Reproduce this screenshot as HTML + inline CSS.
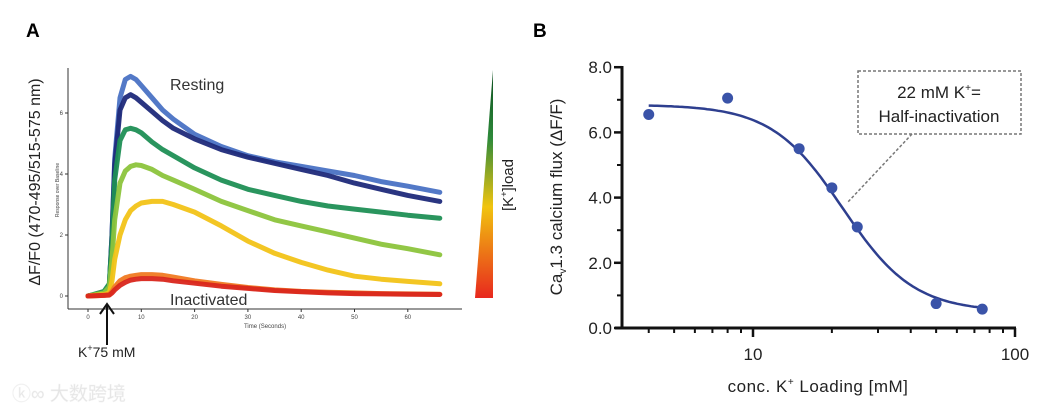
<!DOCTYPE html>
<html><head><meta charset="utf-8"><style>
html,body{margin:0;padding:0;background:#fff;width:1045px;height:412px;overflow:hidden}
svg{display:block}
text{font-family:"Liberation Sans","Noto Sans CJK SC",sans-serif}
</style></head><body>
<svg id="fig" width="1045" height="412" viewBox="0 0 1045 412">
<defs>
<linearGradient id="kgrad" x1="0" y1="0" x2="0" y2="1">
<stop offset="0" stop-color="#0b4d1e"/><stop offset="0.3" stop-color="#2e8a3a"/>
<stop offset="0.6" stop-color="#f1c40f"/><stop offset="1" stop-color="#e8281e"/>
</linearGradient>
</defs>
<text x="26" y="37" font-size="19" font-weight="bold">A</text>
<text x="533" y="37" font-size="19" font-weight="bold">B</text>
<g id="A"></g>
<g id="B"></g>
<text x="12" y="400" font-size="19" fill="#e4e4e4" stroke="#f2f2f2" stroke-width="0.5">ⓚ∞ 大数跨境</text>
</svg>
<script>
const NS="http://www.w3.org/2000/svg";
function mk(parent,tag,attrs,txt){const e=document.createElementNS(NS,tag);for(const k in attrs)e.setAttribute(k,attrs[k]);if(txt!==undefined)e.textContent=txt;parent.appendChild(e);return e;}

// ---- Panel A data ----
const timeA=[0,3,4,4.5,5,6,7,8,9,10,12,14,16,20,25,30,35,40,45,50,55,60,66];
const lightBlue=[0,0.1,0.3,2,4.5,6.5,7.1,7.2,7.1,6.9,6.5,6.1,5.8,5.3,4.9,4.6,4.4,4.25,4.1,3.95,3.75,3.6,3.4];
const navy=[0,0.1,0.3,2,4.3,6.1,6.5,6.6,6.5,6.35,6.05,5.75,5.5,5.15,4.8,4.55,4.35,4.15,3.95,3.7,3.5,3.3,3.1];
const green=[0,0.15,0.4,1.8,3.8,5.1,5.45,5.5,5.45,5.35,5.05,4.8,4.6,4.2,3.8,3.5,3.3,3.1,2.95,2.85,2.75,2.65,2.55];
const lime=[0,0.1,0.3,1.2,2.5,3.7,4.1,4.25,4.3,4.28,4.15,3.95,3.8,3.5,3.1,2.8,2.5,2.3,2.1,1.9,1.7,1.55,1.35];
const yellow=[0,0.05,0.1,0.5,1.2,2.0,2.5,2.8,2.95,3.05,3.1,3.1,3.0,2.75,2.3,1.8,1.4,1.1,0.85,0.65,0.55,0.48,0.4];
const orange=[0,0.02,0.05,0.15,0.3,0.5,0.6,0.65,0.68,0.7,0.7,0.68,0.62,0.5,0.38,0.28,0.2,0.15,0.12,0.1,0.08,0.07,0.06];
const red=[0,0.02,0.03,0.1,0.2,0.35,0.45,0.52,0.55,0.57,0.57,0.55,0.5,0.42,0.32,0.25,0.18,0.14,0.1,0.08,0.07,0.06,0.05];
const seriesA=[lightBlue,navy,green,lime,yellow,orange,red];
const seriesNamesA=["trace-resting-light-blue","trace-navy","trace-green","trace-lime","trace-yellow","trace-orange","trace-red-inactivated"];
const seriesColorsA=["#4a72c4","#1f2a7a","#1f8f55","#8cc43c","#f2c318","#f07a22","#d9261c"];
const xTicksA=[0,10,20,30,40,50,60];
const yTicksA=[0,2,4,6];

const ax=t=>88+t*5.33, ay=v=>296-v*30.5;
const A=document.getElementById('A');
let el;
el=mk(A,'line',{x1:68,y1:68,x2:68,y2:309,stroke:'#333','stroke-width':1});

el=mk(A,'line',{x1:68,y1:309,x2:462,y2:309,stroke:'#333','stroke-width':1});

xTicksA.forEach(t=>{
  el=mk(A,'line',{x1:ax(t),y1:309,x2:ax(t),y2:312,stroke:'#333'});
  
  el=mk(A,'text',{x:ax(t),y:319,'font-size':6,'text-anchor':'middle',fill:'#444'},t);
  
});
yTicksA.forEach(v=>{
  el=mk(A,'line',{x1:65,y1:ay(v),x2:68,y2:ay(v),stroke:'#333'});
  
  el=mk(A,'text',{x:63,y:ay(v)+2,'font-size':6,'text-anchor':'end',fill:'#444'},v);
  
});
seriesA.forEach((s,i)=>{
  const d=s.map((v,j)=>(j?'L':'M')+ax(timeA[j]).toFixed(1)+','+ay(v).toFixed(1)).join('');
  el=mk(A,'path',{d:d,fill:'none',stroke:seriesColorsA[i],'stroke-width':5,'stroke-linejoin':'round','stroke-linecap':'round',opacity:0.95});
  
});
el=mk(A,'text',{x:170,y:90,'font-size':16,fill:'#333'},'Resting');

el=mk(A,'text',{x:170,y:305,'font-size':16,fill:'#333'},'Inactivated');

el=mk(A,'text',{x:265,y:328,'font-size':6,'text-anchor':'middle',fill:'#444'},'Time (Seconds)');

el=mk(A,'text',{x:0,y:0,'font-size':5,'text-anchor':'middle',fill:'#444',transform:'translate(59,190) rotate(-90)'},'Response over Baseline');

el=mk(A,'text',{x:0,y:0,'font-size':16,'text-anchor':'middle',fill:'#222',transform:'translate(40,182) rotate(-90)'},'ΔF/F0 (470-495/515-575 nm)');

el=mk(A,'path',{d:'M107,345 L107,305 M100,314 L107,304 L114,314',fill:'none',stroke:'#111','stroke-width':2});

el=mk(A,'text',{x:78,y:357,'font-size':14,fill:'#222'});

el.innerHTML='K<tspan font-size="9" dy="-6">+</tspan><tspan dy="6">75 mM</tspan>';
el=mk(A,'polygon',{points:'493,70 493,298 475,298',fill:'url(#kgrad)'});

el=mk(A,'text',{x:0,y:0,'font-size':15,'text-anchor':'middle',fill:'#222',transform:'translate(513,185) rotate(-90)'});

el.innerHTML='[K<tspan font-size="9" dy="-6">+</tspan><tspan dy="6">]load</tspan>';

// ---- Panel B data ----
const concB=[4,8,15,20,25,50,75];
const fluxB=[6.55,7.05,5.5,4.3,3.1,0.75,0.58];
const fitParams=[6.85,0.5,22,3.2]; // top, bottom, IC50, hill
const yTicksB=[0,2,4,6,8];
const yTickLabelsB=["0.0","2.0","4.0","6.0","8.0"];
const xTicksB=[10,100];

const bx=c=>753+Math.log10(c/10)*262, by=v=>328-v*32.6;
const B=document.getElementById('B');
el=mk(B,'line',{x1:622,y1:66,x2:622,y2:329.5,stroke:'#111','stroke-width':3});

el=mk(B,'line',{x1:615,y1:328,x2:1016,y2:328,stroke:'#111','stroke-width':3});

yTicksB.forEach((v,i)=>{
  el=mk(B,'line',{x1:614,y1:by(v),x2:622,y2:by(v),stroke:'#111','stroke-width':2.5});
  
  el=mk(B,'text',{x:612,y:by(v)+6,'font-size':17,'text-anchor':'end',fill:'#222'},yTickLabelsB[i]);
  
  if(i<yTicksB.length-1){
    el=mk(B,'line',{x1:617,y1:by(v+1),x2:622,y2:by(v+1),stroke:'#111','stroke-width':2});
    
  }
});
[4,5,6,7,8,9,20,30,40,50,60,70,80,90].forEach(c=>{
  el=mk(B,'line',{x1:bx(c),y1:328,x2:bx(c),y2:333,stroke:'#111','stroke-width':2});
  
});
xTicksB.forEach(c=>{
  el=mk(B,'line',{x1:bx(c),y1:328,x2:bx(c),y2:337,stroke:'#111','stroke-width':2.5});
  
  el=mk(B,'text',{x:bx(c),y:360,'font-size':17,'text-anchor':'middle',fill:'#222'},c);
  
});
let d='';
for(let k=0;k<=120;k++){
  const c=concB[0]*Math.pow(concB[concB.length-1]/concB[0],k/120);
  const v=fitParams[1]+(fitParams[0]-fitParams[1])/(1+Math.pow(c/fitParams[2],fitParams[3]));
  d+=(k?'L':'M')+bx(c).toFixed(1)+','+by(v).toFixed(1);
}
el=mk(B,'path',{d:d,fill:'none',stroke:'#2e3f8f','stroke-width':2.5});

concB.forEach((c,i)=>{
  el=mk(B,'circle',{cx:bx(c),cy:by(fluxB[i]),r:5.5,fill:'#3a53a8'});
  
});
el=mk(B,'rect',{x:858,y:71,width:163,height:63,fill:'none',stroke:'#777','stroke-width':1.5,'stroke-dasharray':'3,2'});

el=mk(B,'text',{x:939,y:98,'font-size':17,'text-anchor':'middle',fill:'#222'});

el.innerHTML='22 mM K<tspan font-size="10" dy="-7">+</tspan><tspan dy="7">=</tspan>';
el=mk(B,'text',{x:939,y:122,'font-size':17,'text-anchor':'middle',fill:'#222'},'Half-inactivation');

el=mk(B,'line',{x1:912,y1:134,x2:847,y2:203,stroke:'#777','stroke-width':1.5,'stroke-dasharray':'3,2'});

el=mk(B,'text',{x:818,y:392,'font-size':17,'text-anchor':'middle',fill:'#222','letter-spacing':'0.5'});

el.innerHTML='conc. K<tspan font-size="10" dy="-7">+</tspan><tspan dy="7"> Loading [mM]</tspan>';
el=mk(B,'text',{x:0,y:0,'font-size':17,'text-anchor':'middle',fill:'#222',transform:'translate(562,197) rotate(-90)'});

el.innerHTML='Ca<tspan font-size="10" dy="4">v</tspan><tspan dy="-4">1.3 calcium flux (ΔF/F)</tspan>';
</script>
</body></html>
